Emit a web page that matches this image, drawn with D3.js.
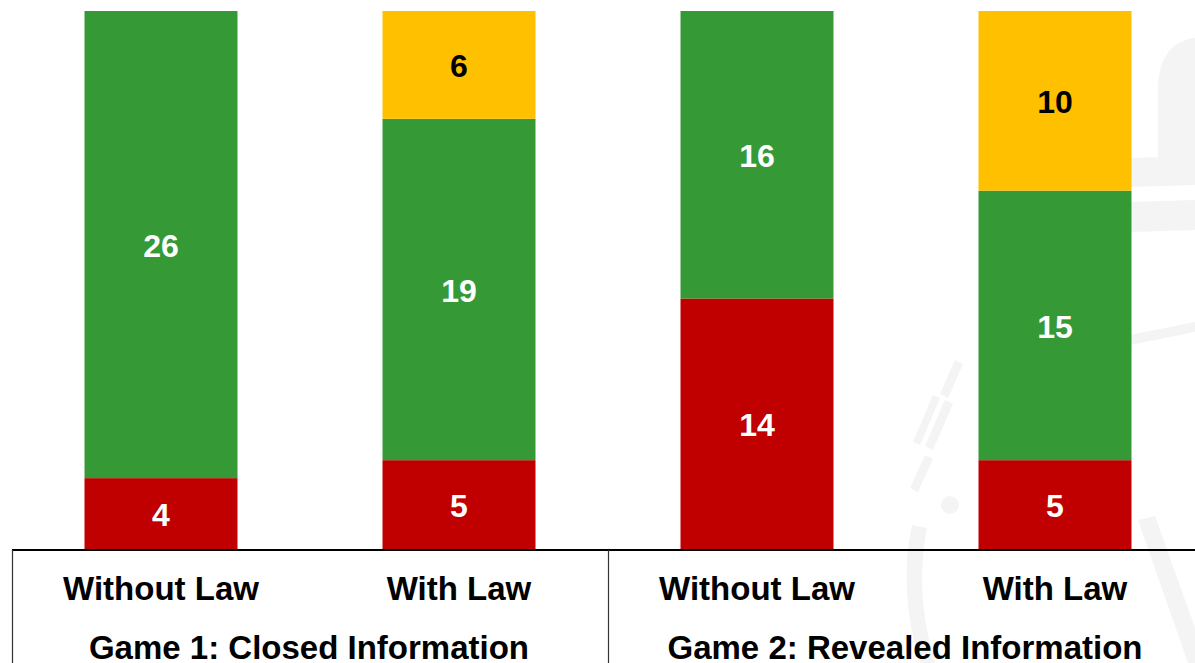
<!DOCTYPE html>
<html>
<head>
<meta charset="utf-8">
<script src="https://cdn.jsdelivr.net/npm/d3@7"></script>
<style>
  html, body { margin: 0; padding: 0; background: #fff; }
  svg { display: block; font-family: "Liberation Sans", Arial, sans-serif; }
</style>
</head>
<body>
<svg id="chart" width="1195" height="663"></svg>
<script>
// Outcome counts per condition (30 participants each)
const games = ["Game 1: Closed Information", "Game 2: Revealed Information"];
const conditions = ["Without Law", "With Law"];
const categories = ["g1-without", "g1-with", "g2-without", "g2-with"];
const redValues = [4, 5, 14, 5];
const greenValues = [26, 19, 16, 15];
const yellowValues = [0, 6, 0, 10];
const seriesKeys = ["red", "green", "yellow"];
const colors = { red: "#c00000", green: "#359a35", yellow: "#ffc000" };
const labelColors = { red: "#ffffff", green: "#ffffff", yellow: "#000000" };

const rows = categories.map((c, i) => ({
  cat: c, red: redValues[i], green: greenValues[i], yellow: yellowValues[i]
}));

const svg = d3.select("#chart");
const W = 1195, H = 663;
const left = 12, right = 1204, baseY = 550, topY = 11;

// faint seal in the background, right side
const seal = svg.append("g").attr("fill", "#f4f4f4").attr("stroke", "none");
seal.append("path")
  .attr("d", "M1158,158 L1158,85 Q1160,45 1192,38 L1195,38 L1195,158 Z");
seal.append("path")
  .attr("d", "M1130,158 L1195,156 L1195,185 L1130,187 Z");
seal.append("path")
  .attr("d", "M1130,202 L1195,200 L1195,230 L1130,232 Z");
seal.append("path")
  .attr("d", "M1130,335 L1195,322 L1195,332 L1130,345 Z");
seal.append("path")
  .attr("d", "M1138,520 L1155,516 L1195,628 L1195,663 L1188,663 Z");
// rotated lettering along the seal's rim
seal.append("path")
  .attr("d", "M955,360 L963,364 L948,398 L940,394 Z M945,400 L953,404 L933,450 L925,446 Z M933,395 L940,398 L920,445 L913,442 Z");
seal.append("path")
  .attr("d", "M925,455 L933,459 L918,492 L910,488 Z");
seal.append("circle").attr("cx", 950).attr("cy", 505).attr("r", 9);
seal.append("path")
  .attr("d", "M912,525 Q898,590 920,663 L935,663 Q914,592 927,528 Z");

const x = d3.scaleBand()
  .domain(categories)
  .range([left, right])
  .paddingInner(0.4866)
  .paddingOuter(0.2433);

const y = d3.scaleLinear().domain([0, 30]).range([baseY, topY]);

const stacked = d3.stack().keys(seriesKeys)(rows);

const layers = svg.append("g").selectAll("g")
  .data(stacked)
  .join("g")
  .attr("fill", d => colors[d.key]);

layers.selectAll("rect")
  .data(d => d.filter(p => p[1] - p[0] > 0))
  .join("rect")
  .attr("x", d => x(d.data.cat))
  .attr("width", x.bandwidth())
  .attr("y", d => y(d[1]))
  .attr("height", d => y(d[0]) - y(d[1]));

// value labels centred in each segment
const labels = svg.append("g")
  .attr("font-weight", "bold")
  .attr("font-size", 32)
  .attr("text-anchor", "middle");
stacked.forEach(layer => {
  layer.forEach(p => {
    const v = p[1] - p[0];
    if (v <= 0) return;
    labels.append("text")
      .attr("x", x(p.data.cat) + x.bandwidth() / 2)
      .attr("y", (y(p[0]) + y(p[1])) / 2 + 1)
      .attr("dy", "0.35em")
      .attr("fill", labelColors[layer.key])
      .text(v);
  });
});

// category axis with grouped labels
const axis = svg.append("g");
axis.append("line")
  .attr("x1", left).attr("x2", W)
  .attr("y1", baseY).attr("y2", baseY)
  .attr("stroke", "#000").attr("stroke-width", 2);

const groupEdges = [0, 2, 4].map(i => left + i * x.step());
groupEdges.forEach(gx => {
  axis.append("line")
    .attr("x1", gx + 0.5).attr("x2", gx + 0.5)
    .attr("y1", baseY).attr("y2", H)
    .attr("stroke", "#333").attr("stroke-width", 1.2);
});

axis.append("g")
  .attr("font-weight", "bold").attr("font-size", 33).attr("text-anchor", "middle")
  .selectAll("text")
  .data(categories)
  .join("text")
  .attr("x", c => x(c) + x.bandwidth() / 2)
  .attr("y", 600)
  .text((c, i) => conditions[i % 2]);

axis.append("g")
  .attr("font-weight", "bold").attr("font-size", 33).attr("text-anchor", "middle")
  .selectAll("text")
  .data(games)
  .join("text")
  .attr("x", (g, i) => (groupEdges[i] + groupEdges[i + 1]) / 2 - 1)
  .attr("y", 659)
  .text(g => g);
</script>
</body>
</html>
